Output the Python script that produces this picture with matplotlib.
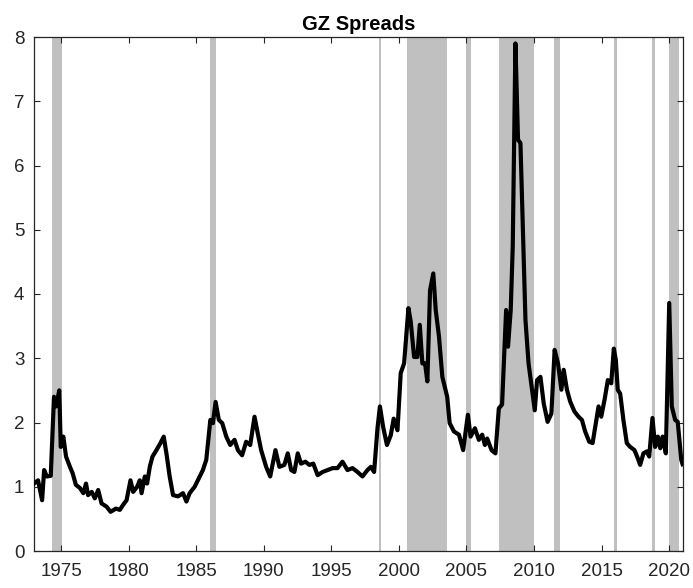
#!/usr/bin/env python3

import matplotlib
matplotlib.use('Agg')
import matplotlib.pyplot as plt

# GZ credit spread (percentage points)
dates = [
    1973.00, 1973.30, 1973.60, 1973.75, 1973.95, 1974.24, 1974.48, 1974.63, 1974.87, 1974.98,
    1975.17, 1975.37, 1975.66, 1975.86, 1976.10, 1976.40, 1976.65, 1976.85, 1977.00, 1977.27,
    1977.50, 1977.75, 1978.00, 1978.37, 1978.67, 1979.06, 1979.35, 1979.60, 1979.85, 1980.14,
    1980.34, 1980.63, 1980.83, 1980.96, 1981.20, 1981.37, 1981.57, 1981.77, 1982.06, 1982.36,
    1982.60, 1982.80, 1983.04, 1983.29, 1983.66, 1984.03, 1984.28, 1984.52, 1984.89, 1985.26,
    1985.50, 1985.75, 1986.05, 1986.24, 1986.44, 1986.68, 1986.93, 1987.23, 1987.52, 1987.84,
    1988.09, 1988.40, 1988.70, 1989.00, 1989.32, 1989.56, 1989.81, 1990.18, 1990.48, 1990.87,
    1991.16, 1991.53, 1991.78, 1992.03, 1992.27, 1992.52, 1992.76, 1993.08, 1993.38, 1993.67,
    1993.99, 1994.36, 1994.73, 1995.10, 1995.46, 1995.83, 1996.20, 1996.57, 1996.94, 1997.31,
    1997.68, 1997.93, 1998.17, 1998.42, 1998.60, 1998.84, 1999.12, 1999.40, 1999.62, 1999.90,
    2000.14, 2000.39, 2000.71, 2000.88, 2001.13, 2001.37, 2001.55, 2001.74, 2001.94, 2002.11,
    2002.31, 2002.55, 2002.73, 2002.97, 2003.22, 2003.58, 2003.76, 2004.08, 2004.45, 2004.76,
    2005.11, 2005.31, 2005.63, 2005.92, 2006.17, 2006.37, 2006.54, 2006.86, 2007.15, 2007.40,
    2007.64, 2007.94, 2008.08, 2008.28, 2008.43, 2008.63, 2008.82, 2009.00, 2009.37, 2009.60,
    2009.86, 2010.06, 2010.23, 2010.48, 2010.72, 2011.01, 2011.29, 2011.53, 2011.78, 2012.03,
    2012.20, 2012.44, 2012.69, 2013.00, 2013.30, 2013.55, 2013.79, 2014.09, 2014.34, 2014.53,
    2014.78, 2014.98, 2015.22, 2015.47, 2015.72, 2015.91, 2016.06, 2016.20, 2016.38, 2016.62,
    2016.87, 2017.12, 2017.44, 2017.69, 2017.86, 2018.10, 2018.35, 2018.53, 2018.77, 2018.97,
    2019.17, 2019.35, 2019.52, 2019.76, 2020.01, 2020.20, 2020.45, 2020.64, 2020.90, 2021.00,
]
spread = [
    1.05, 1.10, 0.79, 1.26, 1.16, 1.17, 2.40, 2.25, 2.50, 1.62,
    1.78, 1.47, 1.31, 1.21, 1.03, 0.98, 0.90, 1.05, 0.87, 0.92,
    0.82, 0.95, 0.74, 0.69, 0.61, 0.66, 0.64, 0.72, 0.79, 1.10,
    0.92, 1.00, 1.10, 0.90, 1.16, 1.05, 1.31, 1.47, 1.57, 1.68,
    1.78, 1.52, 1.16, 0.87, 0.85, 0.90, 0.77, 0.90, 1.00, 1.16,
    1.26, 1.42, 2.04, 1.99, 2.32, 2.04, 1.99, 1.78, 1.65, 1.73,
    1.57, 1.49, 1.70, 1.65, 2.09, 1.83, 1.57, 1.31, 1.16, 1.57,
    1.31, 1.34, 1.52, 1.26, 1.23, 1.52, 1.36, 1.39, 1.34, 1.36,
    1.18, 1.23, 1.26, 1.29, 1.29, 1.39, 1.26, 1.29, 1.23, 1.16,
    1.26, 1.31, 1.23, 1.91, 2.25, 1.93, 1.65, 1.80, 2.06, 1.88,
    2.77, 2.92, 3.78, 3.57, 3.02, 3.02, 3.52, 2.92, 2.92, 2.64,
    4.06, 4.32, 3.75, 3.34, 2.71, 2.40, 1.99, 1.86, 1.81, 1.57,
    2.12, 1.78, 1.91, 1.73, 1.81, 1.65, 1.75, 1.57, 1.52, 2.22,
    2.28, 3.75, 3.18, 3.75, 4.74, 7.90, 6.40, 6.35, 3.60, 2.92,
    2.51, 2.19, 2.66, 2.71, 2.30, 2.01, 2.14, 3.13, 2.92, 2.51,
    2.82, 2.51, 2.32, 2.17, 2.09, 2.04, 1.86, 1.70, 1.68, 1.93,
    2.25, 2.09, 2.35, 2.66, 2.61, 3.15, 2.97, 2.51, 2.45, 2.04,
    1.68, 1.62, 1.57, 1.44, 1.34, 1.52, 1.55, 1.47, 2.07, 1.62,
    1.78, 1.60, 1.78, 1.52, 3.86, 2.25, 2.04, 2.01, 1.42, 1.35,
]

# shaded episodes (start, end)
band_start = [1974.30, 1986.00, 1998.50, 2000.63, 2004.99, 2007.40, 2011.50, 2015.96, 2018.75, 2020.00]
band_end = [1975.10, 1986.45, 1998.70, 2003.55, 2005.35, 2010.00, 2011.95, 2016.15, 2018.95, 2020.70]

xticks = [1975, 1980, 1985, 1990, 1995, 2000, 2005, 2010, 2015, 2020]
yticks = [0, 1, 2, 3, 4, 5, 6, 7, 8]

plt.rcParams['font.family'] = ['Liberation Sans', 'DejaVu Sans']

fig = plt.figure(figsize=(6.93, 5.88), dpi=100)
ax = fig.add_axes([34 / 693, 37 / 588, 649 / 693, 514 / 588])

for s, e in zip(band_start, band_end):
    ax.axvspan(s, e, color='#c0c0c0', lw=0, zorder=1)

ax.plot(dates, spread, color='black', lw=3.0, zorder=3)

ax.set_xlim(1973.0, 2021.03)
ax.set_ylim(0, 8)
ax.set_xticks(xticks)
ax.set_yticks(yticks)
ax.tick_params(direction='in', top=True, right=True, length=4, width=0.8,
               colors='#262626', labelsize=13.5, labelcolor='#262626')
ax.tick_params(axis='x', pad=9)
ax.tick_params(axis='y', pad=7)
for sp in ax.spines.values():
    sp.set_color('#262626')
    sp.set_linewidth(0.9)
ax.set_title('GZ Spreads', fontsize=14.5, fontweight='bold', pad=5)

plt.savefig('out.png', dpi=100)
